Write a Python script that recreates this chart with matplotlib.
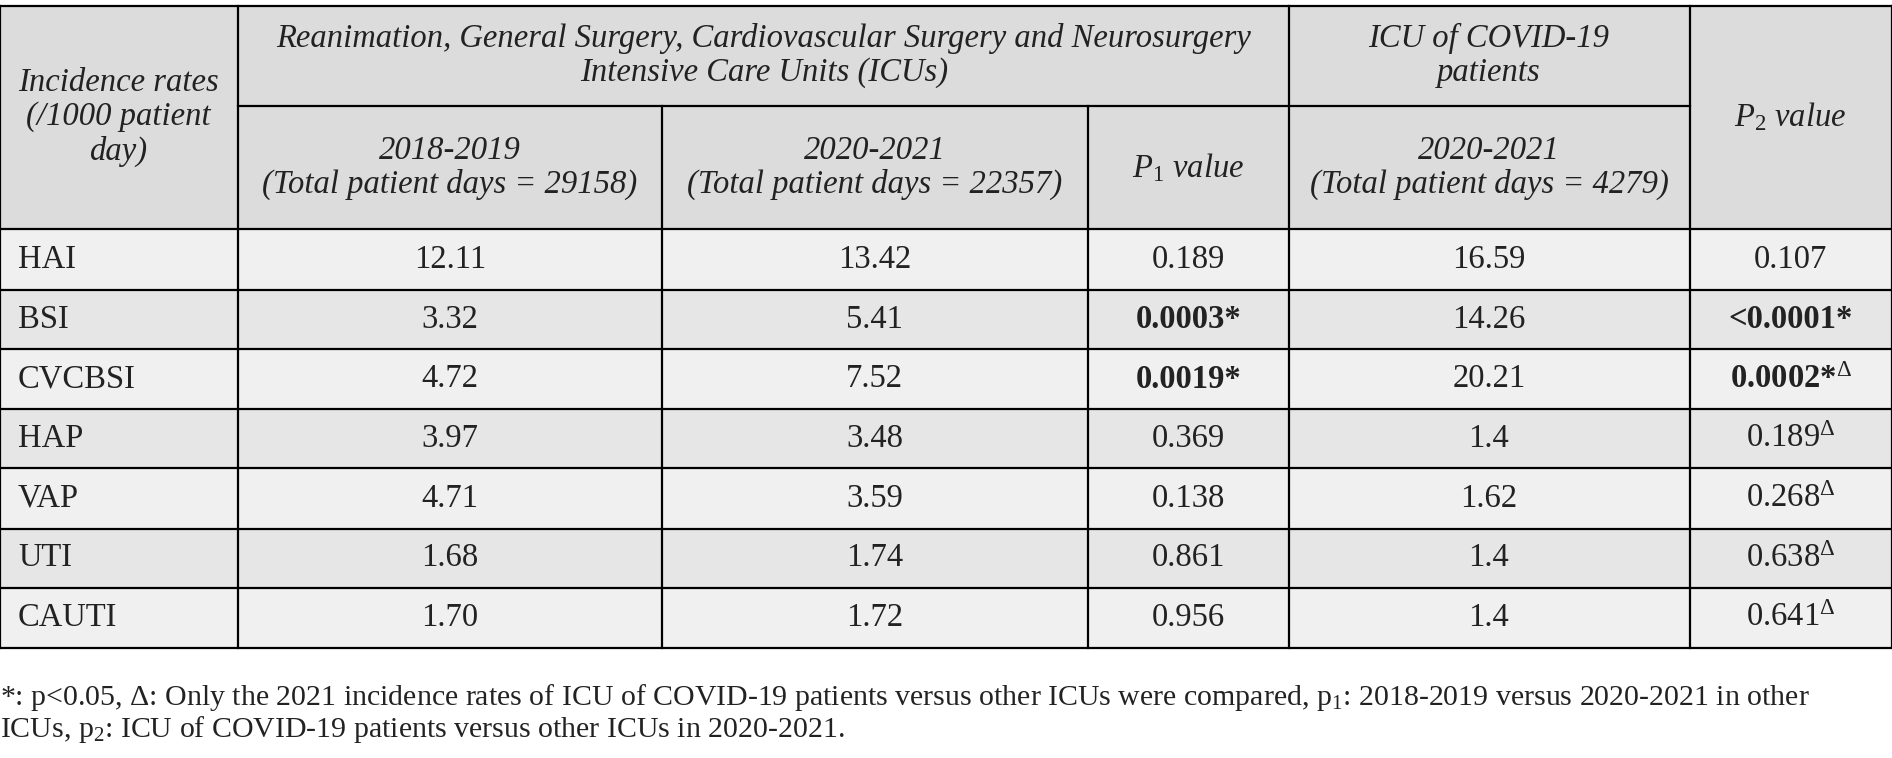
import matplotlib.pyplot as plt
import numpy as np

'''
ICU incidence rates table (/1000 patient day)
'''

plt.rcParams['font.family'] = ['Liberation Serif', 'DejaVu Serif']
plt.rcParams['mathtext.fontset'] = 'custom'
plt.rcParams['mathtext.rm'] = 'Liberation Serif'
plt.rcParams['mathtext.it'] = 'Liberation Serif:italic'
plt.rcParams['mathtext.bf'] = 'Liberation Serif:bold'

fs = 23.5

cols = [0, 197, 549, 902, 1068, 1401, 1568]   # column borders
rows = [5, 88, 190, 240, 289, 339, 388, 438, 487, 537]   # row borders

names = ['HAI', 'BSI', 'CVCBSI', 'HAP', 'VAP', 'UTI', 'CAUTI']
a1819 = ['12.11', '3.32', '4.72', '3.97', '4.71', '1.68', '1.70']
a2021 = ['13.42', '5.41', '7.52', '3.48', '3.59', '1.74', '1.72']
p1 = ['0.189', '0.0003*', '0.0019*', '0.369', '0.138', '0.861', '0.956']
covid = ['16.59', '14.26', '20.21', '1.4', '1.62', '1.4', '1.4']
p2 = ['0.107', '<0.0001*', '0.0002*', '0.189', '0.268', '0.638', '0.641']
p2delta = [False, False, True, True, True, True, True]

plt.figure(figsize=(18.92, 7.58), dpi=100)
plt.axes([0, 0, 1, 1])
plt.xlim(0, 1568)
plt.ylim(628, 0)
plt.axis('off')

# backgrounds
plt.fill_between([0, 1568], rows[0], rows[2], color='#dcdcdc', lw=0)
for i in range(7):
	c = '#f0f0f0' if i % 2 == 0 else '#e6e6e6'
	plt.fill_between([0, 1568], rows[i+2], rows[i+3], color=c, lw=0)

# grid lines
lw = 1.6
plt.plot([0, 1568], [rows[0]]*2, 'k', lw=lw)
plt.plot([197, 1401], [88, 88], 'k', lw=lw)
for y in rows[2:]:
	plt.plot([0, 1568], [y, y], 'k', lw=lw)
for x in cols:
	if x in (549, 902):
		plt.plot([x, x], [88, 537], 'k', lw=lw)
	else:
		plt.plot([x, x], [5, 537], 'k', lw=lw)

# header
it = dict(style='italic', fontsize=fs, ha='center', va='center', color='#222222', linespacing=1.15)
plt.text(98, 97, 'Incidence rates\n(/1000 patient\nday)', **it)
plt.text(633, 46, 'Reanimation, General Surgery, Cardiovascular Surgery and Neurosurgery\nIntensive Care Units (ICUs)', **it)
plt.text(1234, 46, 'ICU of COVID-19\npatients', **it)
plt.text(1484, 97, r'$P_{2}$ value', **it)
plt.text(373, 139, '2018-2019\n(Total patient days = 29158)', **it)
plt.text(725, 139, '2020-2021\n(Total patient days = 22357)', **it)
plt.text(985, 139, r'$P_{1}$ value', **it)
plt.text(1234, 139, '2020-2021\n(Total patient days = 4279)', **it)

# body
for i in range(7):
	y = (rows[i+2] + rows[i+3]) / 2
	plt.text(15, y, names[i], fontsize=fs, va='center', color='#222222')
	plt.text(373, y, a1819[i], fontsize=fs, ha='center', va='center', color='#222222')
	plt.text(725, y, a2021[i], fontsize=fs, ha='center', va='center', color='#222222')
	plt.text(985, y, p1[i], fontsize=fs, ha='center', va='center', color='#222222',
		weight='bold' if '*' in p1[i] else 'normal')
	plt.text(1234, y, covid[i], fontsize=fs, ha='center', va='center', color='#222222')
	s = p2[i] + (r'$^{Δ}$' if p2delta[i] else '')
	plt.text(1484, y, s, fontsize=fs, ha='center', va='center', color='#222222',
		weight='bold' if '*' in p2[i] else 'normal')

plt.text(0, 578, r'*: p<0.05, Δ: Only the 2021 incidence rates of ICU of COVID-19 patients versus other ICUs were compared, p$_{1}$: 2018-2019 versus 2020-2021 in other', fontsize=21.5, va='center', color='#222222')
plt.text(0, 604, r'ICUs, p$_{2}$: ICU of COVID-19 patients versus other ICUs in 2020-2021.', fontsize=21.5, va='center', color='#222222')

plt.savefig('out.png', dpi=100)
